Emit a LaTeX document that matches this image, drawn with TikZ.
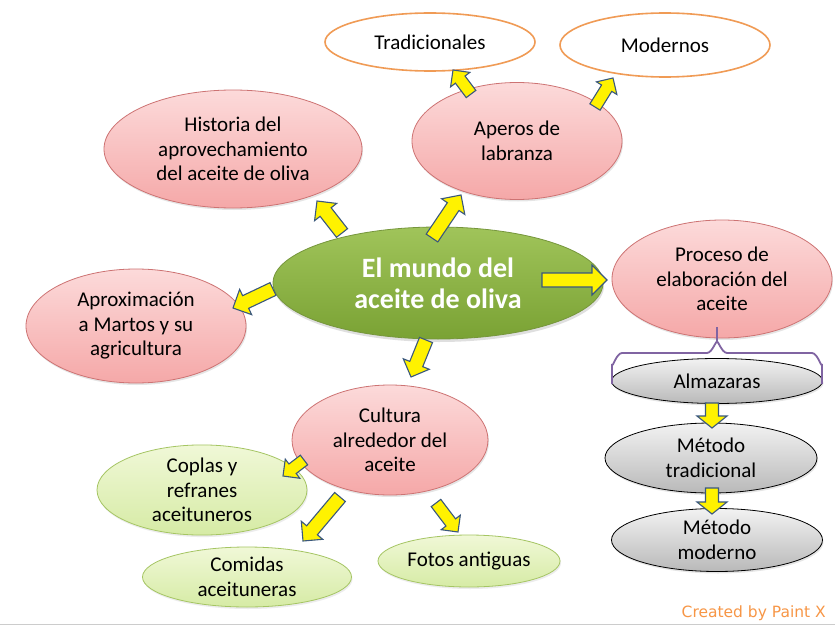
\documentclass[tikz,border=0pt]{standalone}
\usepackage{fontspec}
\setmainfont{Carlito}
\newfontfamily\credfont{DejaVu Sans}
\usetikzlibrary{shapes.geometric,calc,shadows}
\definecolor{pinkT}{RGB}{252,218,218}
\definecolor{pinkB}{RGB}{245,168,168}
\definecolor{pinkD}{RGB}{205,115,115}
\definecolor{grnT}{RGB}{160,196,90}
\definecolor{grnB}{RGB}{122,162,52}
\definecolor{grnD}{RGB}{118,150,60}
\definecolor{lgT}{RGB}{240,248,215}
\definecolor{lgB}{RGB}{214,235,165}
\definecolor{lgD}{RGB}{165,197,99}
\definecolor{gryT}{RGB}{242,242,242}
\definecolor{gryB}{RGB}{185,185,185}
\definecolor{orng}{RGB}{240,155,85}
\definecolor{arrD}{RGB}{58,88,125}
\definecolor{brc}{RGB}{128,100,162}
\definecolor{credc}{RGB}{247,150,70}
\tikzset{
  ell/.style={ellipse, inner sep=0pt, align=center, font={\fontsize{21}{24.5}\selectfont}},
  pinkn/.style={ell, draw=pinkD, line width=0.8pt, top color=pinkT, bottom color=pinkB,
     drop shadow={opacity=0.2, shadow xshift=1pt, shadow yshift=-2pt}},
  centn/.style={ell, draw=grnD, line width=0.8pt, top color=grnT, bottom color=grnB,
     text=white, font={\fontsize{28}{31}\selectfont\bfseries},
     drop shadow={opacity=0.25, shadow xshift=1pt, shadow yshift=-3pt}},
  lgn/.style={ell, draw=lgD, line width=0.8pt, top color=lgT, bottom color=lgB,
     drop shadow={opacity=0.15, shadow xshift=1pt, shadow yshift=-2pt}},
  gryn/.style={ell, draw=black, line width=0.8pt, top color=gryT, bottom color=gryB,
     drop shadow={opacity=0.2, shadow xshift=1pt, shadow yshift=-2pt}},
  orn/.style={ell, draw=orng, line width=1.6pt, fill=white},
  blockarr/.style={fill=yellow, draw=arrD, line width=1.1pt, line join=miter},
  bracesty/.style={draw=brc, line width=1.8pt}
}
% #1 tail, #2 tip, #3 half shaft width, #4 half head width, #5 head length
\newcommand{\blkarrow}[5]{%
  \coordinate (hb) at ($(#2)!#5!(#1)$);
  \filldraw[blockarr] ($(#1)!#3!90:(#2)$) -- ($(hb)!#3!-90:(#1)$) -- ($(hb)!#4!-90:(#1)$)
    -- (#2) -- ($(hb)!#4!90:(#1)$) -- ($(hb)!#3!90:(#1)$) -- ($(#1)!#3!-90:(#2)$) -- cycle;
}
\begin{document}
\begin{tikzpicture}[x=1pt,y=-1pt]
\useasboundingbox (0,0) rectangle (835,626);
\fill[white] (0,0) rectangle (835,626);
\draw[gray!40, line width=1pt] (0,624) -- (835,624);

% nodes
\node[orn, minimum width=210pt, minimum height=58pt] (trad) at (430,42) {Tradicionales};
\node[orn, minimum width=210pt, minimum height=64pt] (mod) at (665,45) {Modernos};
\node[pinkn, minimum width=210pt, minimum height=117pt] (aper) at (517,141) {Aperos de\\labranza};
\node[pinkn, minimum width=258pt, minimum height=118pt] (hist) at (233,149) {Historia del\\aprovechamiento\\del aceite de oliva};
\node[centn, minimum width=330pt, minimum height=112pt] (c) at (438,283) {El mundo del\\aceite de oliva};
\node[pinkn, minimum width=220pt, minimum height=118pt] (proc) at (722,279) {Proceso de\\elaboración del\\aceite};
\node[pinkn, minimum width=220pt, minimum height=114pt] (aprox) at (136,326) {Aproximación\\a Martos y su\\agricultura};
\node[pinkn, minimum width=196pt, minimum height=110pt] (cult) at (390,440) {Cultura\\alrededor del\\aceite};
\node[lgn, minimum width=210pt, minimum height=75pt] (copl) at (202,490) {Coplas y\\refranes\\aceituneros};
\node[lgn, minimum width=209pt, minimum height=60pt] (comi) at (247,577) {Comidas\\aceituneras};
\node[lgn, minimum width=182pt, minimum height=52pt] (foto) at (469,561) {Fotos antiguas};
\node[gryn, minimum width=211pt, minimum height=45pt] (alma) at (717,381) {Almazaras};
\node[gryn, minimum width=212pt, minimum height=70pt] (mtra) at (711,458) {Método\\tradicional};
\node[gryn, minimum width=211pt, minimum height=63pt] (mmod) at (717,540) {Método\\moderno};

% arrow end points
\coordinate (c-hist-s) at (342,233);  \coordinate (c-hist-e) at (317,201);
\coordinate (c-aper-s) at (432,238);  \coordinate (c-aper-e) at (461,195);
\coordinate (c-proc-s) at (542,280);  \coordinate (c-proc-e) at (607,280);
\coordinate (c-cult-s) at (426,340);  \coordinate (c-cult-e) at (411,377);
\coordinate (c-aprox-s) at (273,289); \coordinate (c-aprox-e) at (233,308);
\coordinate (aper-trad-s) at (471,94); \coordinate (aper-trad-e) at (453,70);
\coordinate (aper-mod-s) at (595,107); \coordinate (aper-mod-e) at (613,78);
\coordinate (cult-copl-s) at (304,460); \coordinate (cult-copl-e) at (283,476);
\coordinate (cult-comi-s) at (340,497); \coordinate (cult-comi-e) at (303,541);
\coordinate (cult-foto-s) at (436,503); \coordinate (cult-foto-e) at (458,532);
\coordinate (alma-mtra-s) at (712,403); \coordinate (alma-mtra-e) at (712,428);
\coordinate (mtra-mmod-s) at (712,488); \coordinate (mtra-mmod-e) at (712,514);

\blkarrow{c-hist-s}{c-hist-e}{7pt}{14pt}{14pt}
\blkarrow{c-aper-s}{c-aper-e}{7pt}{14pt}{14pt}
\blkarrow{c-proc-s}{c-proc-e}{7pt}{15pt}{15pt}
\blkarrow{c-cult-s}{c-cult-e}{7pt}{14pt}{14pt}
\blkarrow{c-aprox-s}{c-aprox-e}{7pt}{14pt}{14pt}
\blkarrow{aper-trad-s}{aper-trad-e}{6pt}{12pt}{12pt}
\blkarrow{aper-mod-s}{aper-mod-e}{6pt}{12pt}{12pt}
\blkarrow{cult-copl-s}{cult-copl-e}{6pt}{12pt}{12pt}
\blkarrow{cult-comi-s}{cult-comi-e}{7pt}{14pt}{14pt}
\blkarrow{cult-foto-s}{cult-foto-e}{6pt}{12pt}{12pt}
\blkarrow{alma-mtra-s}{alma-mtra-e}{6.5pt}{15pt}{12pt}
\blkarrow{mtra-mmod-s}{mtra-mmod-e}{6.5pt}{15pt}{12pt}

% brace
\draw[bracesty] (612,384) -- (612,364) to[out=-90,in=180] (622,353) -- (707,353)
   to[out=0,in=90] (717,343) -- (717,327);
\draw[bracesty] (717,343) to[out=90,in=180] (727,353) -- (812,353)
   to[out=0,in=-90] (822,364) -- (822,384);

\node[font={\credfont\fontsize{15.5}{18}\selectfont}, text=credc, anchor=base east, inner sep=0pt] (cred) at (826,617) {Created by Paint X};
\end{tikzpicture}
\end{document}
